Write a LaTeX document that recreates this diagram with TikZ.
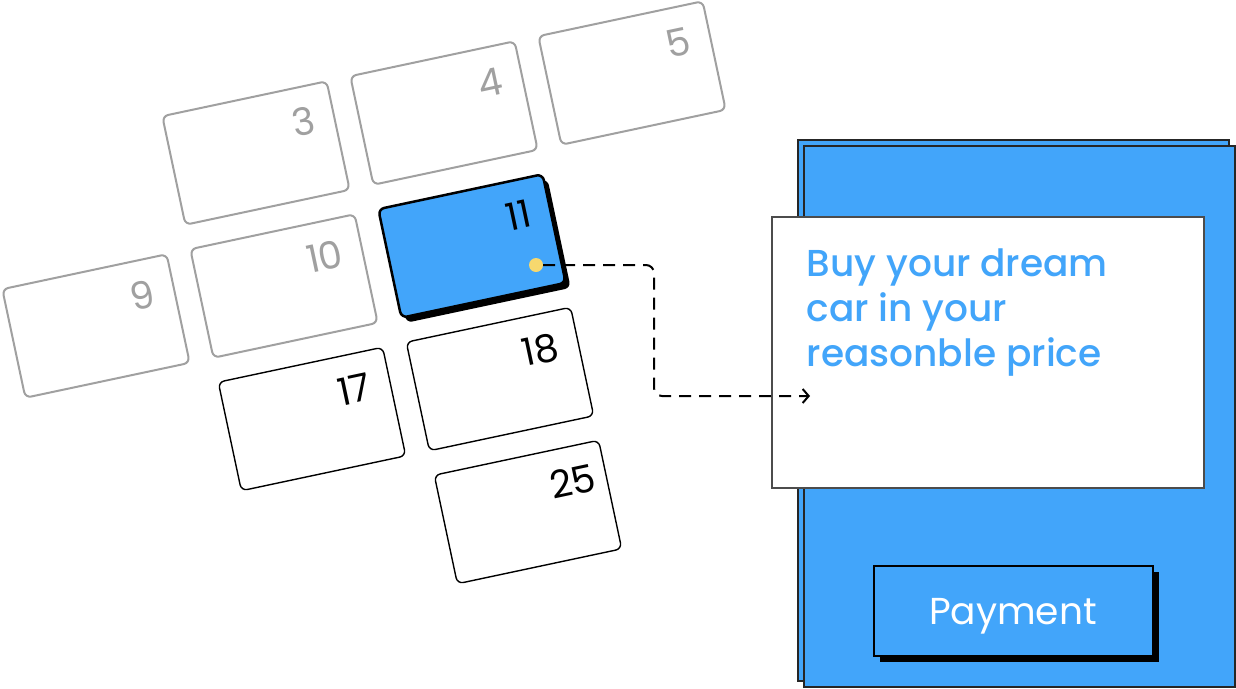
\documentclass[tikz,border=0pt]{standalone}
\usepackage{fontspec}
\setmainfont{Poppins}
\newfontfamily\medfont{Poppins Medium}
\usetikzlibrary{positioning,shadows,arrows.meta}
\definecolor{skyblue}{RGB}{66,165,250}
\definecolor{oldgray}{RGB}{160,160,160}
\definecolor{dotyellow}{RGB}{247,216,110}

\begin{document}
\begin{tikzpicture}[x=1pt,y=-1pt,
  tile/.style={draw,rounded corners=6pt,rotate=12,minimum width=168pt,minimum height=111pt,fill=white,
    text width=128pt,align=right,inner xsep=20pt,inner ysep=0pt,text height=27pt,text depth=40pt,
    font=\fontsize{38}{44}\selectfont},
  past/.style={tile,draw=oldgray,text=oldgray,line width=2pt},
  day/.style={tile,line width=1.4pt},
  today/.style={tile,line width=2.5pt,fill=skyblue,
    drop shadow={shadow xshift=5pt,shadow yshift=-5pt,fill=black,opacity=1}},
  sheet/.style={draw=black!85,line width=2pt,fill=skyblue,minimum width=431pt,minimum height=541pt,
    copy shadow={shadow xshift=-6pt,shadow yshift=6pt}},
  card/.style={draw=black!70,line width=2pt,fill=white,minimum width=432pt,minimum height=271pt},
  msg/.style={text=skyblue,align=left,inner sep=0pt,font=\medfont\fontsize{37.5}{45}\selectfont},
  btn/.style={draw=black,line width=2pt,fill=skyblue,text=white,minimum width=279pt,minimum height=90pt,
    text depth=0pt,font=\fontsize{37.5}{45}\selectfont,
    drop shadow={shadow xshift=6pt,shadow yshift=-6pt,fill=black,opacity=1}},
  spot/.style={circle,fill=dotyellow,minimum size=14pt,inner sep=0pt},
  link/.style={line width=2pt,dash pattern=on 12pt off 8pt,rounded corners=8pt,
    -{Straight Barb[length=6pt,width=14pt]}}]
  \useasboundingbox (0,0) rectangle (1236,688);

  % payment sheet
  \node[sheet] (sheet) at (1019.5,416.5) {};
  \node[card] (card) at (987.5,352.5) {};
  \node[msg,below right=33pt and 36pt of card.north west] (msg) {Buy your dream\\car in your\\reasonble price};
  \node[btn] (pay) at (1013,611) {Payment};

  % calendar
  \node[past] (t3) at (256,153) {3};
  \node[past] (t4) at (444,113) {4};
  \node[past] (t5) at (632,73) {5};
  \node[past] (t9) at (96,326) {9};
  \node[past] (t10) at (284,286) {10};
  \node[today] (t11) at (472,246) {11};
  \node[day] (t17) at (312,419) {17};
  \node[day] (t18) at (500,379) {18};
  \node[day,inner xsep=11pt,text width=146pt] (t25) at (528,512) {25};

  \node[spot] (spot) at (536,265) {};
  \coordinate (turn) at (654,396);
  \coordinate (tip) at (810,396);
  \draw[link] (spot) -| (turn) -- (tip);
\end{tikzpicture}
\end{document}
